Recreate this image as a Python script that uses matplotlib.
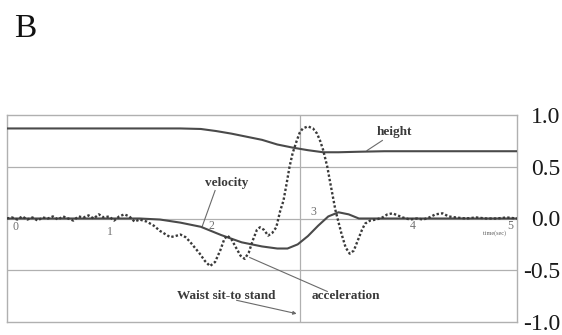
import matplotlib
matplotlib.use("Agg")
import matplotlib.pyplot as plt

# ---------------- data ----------------
height_t = [0.0, 1.0, 1.7, 1.9, 2.05, 2.2, 2.35, 2.5, 2.65, 2.8, 2.95, 3.1, 3.25, 3.45, 3.7, 4.0, 5.0]
height_v = [0.87, 0.87, 0.87, 0.865, 0.845, 0.82, 0.79, 0.76, 0.715, 0.685, 0.66, 0.64, 0.64, 0.645, 0.65, 0.65, 0.65]

vel_t = [0.0, 1.3, 1.5, 1.7, 1.9, 2.1, 2.3, 2.5, 2.65, 2.75, 2.85, 2.95, 3.05, 3.15, 3.25, 3.35, 3.45, 3.6, 5.0]
vel_v = [0.0, 0.0, -0.01, -0.04, -0.08, -0.16, -0.23, -0.27, -0.29, -0.29, -0.25, -0.17, -0.07, 0.02, 0.06, 0.04, 0.0, 0.0, 0.0]

acc_t = [0.00, 0.05, 0.10, 0.15, 0.20, 0.25, 0.30, 0.35, 0.40, 0.45, 0.50, 0.55, 0.60, 0.65, 0.70,
         0.75, 0.80, 0.85, 0.90, 0.95, 1.00, 1.05, 1.10, 1.15, 1.20, 1.25, 1.30, 1.37, 1.44, 1.50,
         1.55, 1.60, 1.65, 1.70, 1.75, 1.79, 1.84, 1.89, 1.94, 1.99, 2.04, 2.09, 2.13, 2.16, 2.20,
         2.25, 2.29, 2.33, 2.37, 2.41, 2.45, 2.48, 2.52, 2.56, 2.60, 2.64, 2.68, 2.71, 2.74, 2.77,
         2.80, 2.84, 2.87, 2.90, 2.95, 3.00, 3.04, 3.07, 3.10, 3.14, 3.17, 3.22, 3.28, 3.32, 3.36,
         3.40, 3.44, 3.48, 3.51, 3.56, 3.62, 3.68, 3.73, 3.78, 3.83, 3.88, 3.95, 4.02, 4.08, 4.14,
         4.20, 4.27, 4.33, 4.40, 4.50, 4.60, 4.70, 4.80, 4.90, 5.00]
acc_v = [0.00, 0.01, -0.01, 0.02, -0.01, 0.01, -0.02, 0.01, 0.00, 0.02, -0.01, 0.02, 0.00, -0.02, 0.02,
         0.01, 0.03, 0.00, 0.04, 0.01, 0.02, -0.02, 0.02, 0.04, 0.02, -0.03, -0.01, -0.03, -0.07, -0.12,
         -0.15, -0.18, -0.17, -0.155, -0.18, -0.22, -0.28, -0.34, -0.41, -0.46, -0.42, -0.31, -0.20, -0.165, -0.20,
         -0.29, -0.36, -0.39, -0.33, -0.21, -0.11, -0.085, -0.11, -0.165, -0.14, -0.085, 0.08, 0.17, 0.33, 0.50,
         0.63, 0.75, 0.83, 0.87, 0.89, 0.87, 0.82, 0.75, 0.66, 0.50, 0.34, 0.08, -0.15, -0.28, -0.34,
         -0.31, -0.21, -0.11, -0.05, -0.02, -0.01, 0.01, 0.04, 0.05, 0.03, 0.01, -0.01, 0.00, -0.01, 0.01,
         0.04, 0.05, 0.02, 0.01, 0.00, 0.01, 0.00, 0.00, 0.01, 0.00]

x_ticks = [0, 1, 2, 3, 4, 5]
x_tick_labels = ["0", "1", "2", "3", "4", "5"]
y_ticks = [1.0, 0.5, 0.0, -0.5, -1.0]
y_tick_labels = ["1.0", "0.5", "0.0", "-0.5", "-1.0"]
stand_end_t = 2.87

# ---------------- figure ----------------
SERIF = ["Liberation Serif", "DejaVu Serif"]
fig = plt.figure(figsize=(5.62, 3.35), dpi=100)
ax = fig.add_axes([7 / 562, 13 / 335, 510 / 562, 207 / 335])
ax.set_xlim(0, 5)
ax.set_ylim(-1, 1)

grid_c = "#b0b0b0"
for s in ax.spines.values():
    s.set_color(grid_c)
    s.set_linewidth(1.0)
for yv in [0.5, 0.0, -0.5]:
    ax.axhline(yv, color=grid_c, lw=0.9, zorder=1)
ax.axvline(stand_end_t, color=grid_c, lw=0.9, zorder=1)

line_c = "#4a4a4a"
ax.plot(height_t, height_v, color=line_c, lw=1.5, zorder=3)
ax.plot(vel_t, vel_v, color=line_c, lw=1.5, zorder=3)
ax.plot(acc_t, acc_v, color="#3a3a3a", lw=1.7, linestyle=(0, (1.0, 0.9)), zorder=4)

ax.set_xticks([])
ax.yaxis.tick_right()
ax.set_yticks(y_ticks)
ax.set_yticklabels(y_tick_labels, fontfamily=SERIF, fontsize=17, color="#1a1a1a")
ax.tick_params(axis="y", length=0, pad=31)
for lbl in ax.get_yticklabels():
    lbl.set_horizontalalignment("right")

# in-plot x tick labels (placed individually, as in the original)
x_lbl_pos = [(0.08, -0.08), (1.01, -0.135), (2.0, -0.075), (3.0, 0.058), (3.98, -0.068), (4.93, -0.068)]
for lab, (xp, yp) in zip(x_tick_labels, x_lbl_pos):
    ax.text(xp, yp, lab, fontfamily=SERIF, fontsize=8.5, color="#707070",
            ha="center", va="center", zorder=5)
ax.text(4.78, -0.145, "time(sec)", fontfamily=SERIF, fontsize=4.5, color="#606060",
        ha="center", va="center")

lab_c = "#3a3a3a"
lab_kw = dict(fontfamily=SERIF, fontsize=9.5, fontweight="bold", color=lab_c, ha="center", va="center")
ax.text(3.80, 0.84, "height", **lab_kw)
ax.plot([3.53, 3.68], [0.657, 0.754], color="#6a6a6a", lw=0.8)
ax.text(2.15, 0.34, "velocity", **lab_kw)
ax.plot([1.91, 2.04], [-0.087, 0.27], color="#6a6a6a", lw=0.8)
ax.text(3.32, -0.75, "acceleration", **lab_kw)
ax.plot([2.38, 3.14], [-0.377, -0.705], color="#6a6a6a", lw=0.8)
ax.text(2.15, -0.75, "Waist sit-to stand", **lab_kw)
ax.annotate("", xy=(2.84, -0.92), xytext=(2.25, -0.79),
            arrowprops=dict(arrowstyle="-|>", color="#6a6a6a", lw=0.8,
                            mutation_scale=5, shrinkA=0, shrinkB=0))

fig.text(14 / 562, 1 - 37 / 335, "B", fontfamily=SERIF, fontsize=24, color="#111111",
         ha="left", va="baseline")

fig.savefig("out.png", dpi=100)
